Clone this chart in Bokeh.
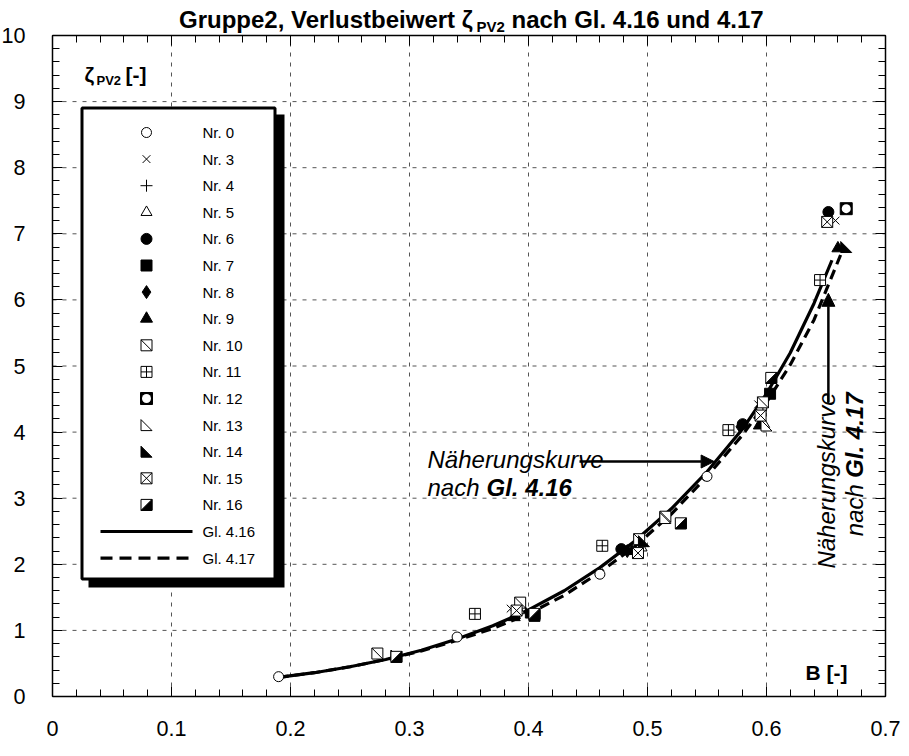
import numpy as np
from bokeh.plotting import figure
from bokeh.models import Range1d, LinearAxis, SingleIntervalTicker, Label, Arrow, NormalHead, BoxAnnotation
from bokeh.core.properties import value
from bokeh.embed import file_html
from bokeh.resources import INLINE

# ---------------- data ----------------
x_ticks = [0.0, 0.1, 0.2, 0.3, 0.4, 0.5, 0.6, 0.7]
y_ticks = [0, 1, 2, 3, 4, 5, 6, 7, 8, 9, 10]

# Gl. 4.16 (solid) and Gl. 4.17 (dashed) approximation curves
x_gl416 = [0.19, 0.22, 0.25, 0.28, 0.31, 0.34, 0.37, 0.40, 0.43, 0.46, 0.49, 0.52, 0.55, 0.58, 0.60, 0.62, 0.64, 0.655]
y_gl416 = [0.29, 0.36, 0.45, 0.56, 0.70, 0.87, 1.07, 1.31, 1.60, 1.95, 2.36, 2.84, 3.40, 4.05, 4.58, 5.20, 5.95, 6.60]
x_gl417 = [0.19, 0.22, 0.25, 0.28, 0.31, 0.34, 0.37, 0.40, 0.43, 0.46, 0.49, 0.52, 0.55, 0.58, 0.60, 0.62, 0.64, 0.665]
y_gl417 = [0.29, 0.36, 0.45, 0.56, 0.69, 0.85, 1.03, 1.25, 1.53, 1.88, 2.28, 2.76, 3.33, 3.96, 4.45, 5.02, 5.70, 6.80]

nr0_x = [0.19, 0.34, 0.46, 0.55, 0.596];        nr0_y = [0.30, 0.90, 1.85, 3.33, 4.35]
nr3_x = [0.385, 0.49, 0.593, 0.658];            nr3_y = [1.33, 2.20, 4.42, 7.20]
nr4_x = [0.39, 0.49, 0.597];                    nr4_y = [1.30, 2.22, 4.38]
nr5_x = [0.392, 0.495, 0.598];                  nr5_y = [1.30, 2.25, 4.12]
nr6_x = [0.478, 0.58, 0.652];                   nr6_y = [2.23, 4.12, 7.33]
nr7_x = [0.405, 0.603];                         nr7_y = [1.22, 4.58]
nr8_x = [0.483, 0.578];                         nr8_y = [2.20, 4.08]
nr9_x = [0.388, 0.487, 0.594, 0.66];            nr9_y = [1.20, 2.20, 4.10, 6.78]
nr10_x = [0.273, 0.393, 0.493, 0.515, 0.597];   nr10_y = [0.65, 1.42, 2.38, 2.72, 4.45]
nr11_x = [0.355, 0.462, 0.568, 0.645];          nr11_y = [1.25, 2.28, 4.03, 6.30]
nr12_x = [0.667];                               nr12_y = [7.38]
nr13_x = [0.515, 0.60];                         nr13_y = [2.70, 4.10]
nr14_x = [0.289, 0.402, 0.497, 0.667];          nr14_y = [0.62, 1.27, 2.35, 6.80]
nr15_x = [0.39, 0.492, 0.595, 0.651];           nr15_y = [1.30, 2.17, 4.25, 7.18]
nr16_x = [0.289, 0.405, 0.528, 0.604];          nr16_y = [0.60, 1.25, 2.62, 4.82]

series = [
    ("Nr. 0", "o", nr0_x, nr0_y), ("Nr. 3", "x", nr3_x, nr3_y), ("Nr. 4", "+", nr4_x, nr4_y),
    ("Nr. 5", "tri", nr5_x, nr5_y), ("Nr. 6", "circ_f", nr6_x, nr6_y), ("Nr. 7", "sq_f", nr7_x, nr7_y),
    ("Nr. 8", "dia_f", nr8_x, nr8_y), ("Nr. 9", "tri_f", nr9_x, nr9_y), ("Nr. 10", "sq_diag", nr10_x, nr10_y),
    ("Nr. 11", "sq_cross", nr11_x, nr11_y), ("Nr. 12", "sq_circ", nr12_x, nr12_y), ("Nr. 13", "rtri", nr13_x, nr13_y),
    ("Nr. 14", "rtri_f", nr14_x, nr14_y), ("Nr. 15", "sq_x", nr15_x, nr15_y), ("Nr. 16", "sq_half", nr16_x, nr16_y),
]

# ---------------- geometry ----------------
W, H = 901, 740
PL, PR, PT, PB = 60, 893, 43, 704          # page pixels of the data box
XMIN, XMAX, YMIN, YMAX = 0.0, 0.7, 0.0, 10.0
KX = (PR - PL) / (XMAX - XMIN)
KY = (PB - PT) / (YMAX - YMIN)
SX, SY = 1.0 / KX, 1.0 / KY
EPS = 1e-6

def X(px):  # page pixel -> data x
    return XMIN + (px - PL) * SX

def Y(py):  # page pixel -> data y
    return YMIN + (PB - py) * SY

FONT = "Liberation Sans"

p = figure(width=W, height=H,
           x_range=Range1d(X(8), X(8 + W)), y_range=Range1d(Y(8 + H), Y(8)),
           output_backend="svg", toolbar_location=None,
           x_axis_location=None, y_axis_location=None,
           min_border=0, min_border_left=0, min_border_right=0, min_border_top=0, min_border_bottom=0,
           background_fill_color="white", border_fill_color="white")
p.outline_line_color = None
p.xgrid.visible = False
p.ygrid.visible = False

def label(px, py, text, size, style="normal", align="left", baseline="alphabetic", angle=0.0, level="annotation"):
    p.add_layout(Label(x=X(px), y=Y(py), text=text, text_align=align, text_baseline=baseline, angle=angle,
                       text_font=FONT, text_font_style=style, text_font_size=size, text_color="black",
                       level=level))

# ---------------- grid lines (from the tick values) ----------------
gx = [v for v in x_ticks if XMIN < v < XMAX]
gy = [v for v in y_ticks if YMIN < v < YMAX]
p.segment(x0=gx, y0=[YMIN] * len(gx), x1=gx, y1=[YMAX] * len(gx), line_color="#555555", line_width=1, line_dash="4 6")
p.segment(x0=[XMIN] * len(gy), y0=gy, x1=[XMAX] * len(gy), y1=gy, line_color="#555555", line_width=1, line_dash="4 6")

# ---------------- axes on all four sides ----------------
def make_axis(fixed, bounds, interval, labels, standoff=0):
    ax = LinearAxis(fixed_location=fixed, bounds=(bounds[0] - EPS, bounds[1] + EPS),
                    ticker=SingleIntervalTicker(interval=interval, num_minor_ticks=5))
    ax.axis_line_color = "black"
    ax.axis_line_width = 1.5
    ax.major_tick_in = 10
    ax.major_tick_out = 0
    ax.minor_tick_in = 7
    ax.minor_tick_out = 0
    ax.major_tick_line_color = "black"
    ax.minor_tick_line_color = "black"
    if labels:
        ax.major_label_text_font = FONT
        ax.major_label_text_font_size = "21.6px"
        ax.major_label_text_color = "black"
        ax.major_label_standoff = standoff
    else:
        ax.major_label_text_color = None
    return ax

p.add_layout(make_axis(XMIN, (YMIN, YMAX), 1, True, 27), "left")
p.add_layout(make_axis(YMIN, (XMIN, XMAX), 0.1, True, 24), "below")
p.add_layout(make_axis(YMAX, (XMIN, XMAX), 0.1, False), "above")
p.add_layout(make_axis(XMAX, (YMIN, YMAX), 1, False), "right")

# ---------------- curves ----------------
p.line(x_gl416, y_gl416, line_color="black", line_width=3.2)
p.line(x_gl417, y_gl417, line_color="black", line_width=3.2, line_dash="10 6")

# ---------------- markers ----------------
def draw(kind, xs, ys, level="glyph"):
    xs = np.asarray(xs, float)
    ys = np.asarray(ys, float)
    h = 5.5
    dx, dy = h * SX, h * SY
    rs = []
    if kind == "o":
        rs.append(p.scatter(xs, ys, marker="circle", size=10, fill_color="white", line_color="black", line_width=1))
    elif kind == "x":
        rs.append(p.scatter(xs, ys, marker="x", size=11, line_color="black", line_width=1))
    elif kind == "+":
        rs.append(p.scatter(xs, ys, marker="cross", size=12, line_color="black", line_width=1))
    elif kind == "tri":
        rs.append(p.scatter(xs, ys, marker="triangle", size=11, fill_color="white", line_color="black", line_width=1))
    elif kind == "circ_f":
        rs.append(p.scatter(xs, ys, marker="circle", size=11, fill_color="black", line_color="black"))
    elif kind == "sq_f":
        rs.append(p.scatter(xs, ys, marker="square", size=11, fill_color="black", line_color="black"))
    elif kind == "dia_f":
        rs.append(p.scatter(xs, ys, marker="diamond", size=13, fill_color="black", line_color="black"))
    elif kind == "tri_f":
        rs.append(p.scatter(xs, ys, marker="triangle", size=12, fill_color="black", line_color="black"))
    elif kind == "sq_diag":
        rs.append(p.scatter(xs, ys, marker="square", size=11, fill_color="white", line_color="black", line_width=1))
        rs.append(p.segment(x0=xs - dx, y0=ys + dy, x1=xs + dx, y1=ys - dy, line_color="black", line_width=1))
    elif kind == "sq_cross":
        rs.append(p.scatter(xs, ys, marker="square_cross", size=11, fill_color="white", line_color="black", line_width=1))
    elif kind == "sq_circ":
        rs.append(p.scatter(xs, ys, marker="square", size=12, fill_color="black", line_color="black"))
        rs.append(p.scatter(xs, ys, marker="circle", size=9, fill_color="white", line_color=None))
    elif kind in ("rtri", "rtri_f"):
        pxs = [[x - dx, x - dx, x + dx] for x in xs]
        pys = [[y + dy, y - dy, y - dy] for y in ys]
        fc = "white" if kind == "rtri" else "black"
        rs.append(p.patches(pxs, pys, fill_color=fc, line_color="black", line_width=1))
    elif kind == "sq_x":
        rs.append(p.scatter(xs, ys, marker="square_x", size=11, fill_color="white", line_color="black", line_width=1))
    elif kind == "sq_half":
        rs.append(p.scatter(xs, ys, marker="square", size=11, fill_color="white", line_color="black", line_width=1))
        pxs = [[x + dx, x + dx, x - dx] for x in xs]
        pys = [[y + dy, y - dy, y - dy] for y in ys]
        rs.append(p.patches(pxs, pys, fill_color="black", line_color="black", line_width=1))
    for r in rs:
        r.level = level
    return rs

for name, kind, xs, ys in series:
    draw(kind, xs, ys)

# ---------------- legend (drawn by hand) ----------------
p.add_layout(BoxAnnotation(left=X(96), right=X(292), top=Y(122), bottom=Y(595),
                           fill_color="black", fill_alpha=1, line_color=None))
p.add_layout(BoxAnnotation(left=X(89.5), right=X(282.5), top=Y(115.5), bottom=Y(586.5),
                           fill_color="white", fill_alpha=1, line_color="black", line_width=3, line_alpha=1))

ROW0, DROW = 140.0, 26.6
mx, tx = 154, 210
for i, (name, kind, xs, ys) in enumerate(series):
    ry = ROW0 + i * DROW
    draw(kind, [X(mx)], [Y(ry)], level="overlay")
    label(tx, ry, name, "15px", baseline="middle", level="overlay")
for j, (name, dash) in enumerate([("Gl. 4.16", "solid"), ("Gl. 4.17", "12 7")]):
    ry = ROW0 + (len(series) + j) * DROW
    r = p.line([X(108), X(200)], [Y(ry), Y(ry)], line_color="black", line_width=3.2, line_dash=dash)
    r.level = "overlay"
    label(tx, ry, name, "15px", baseline="middle", level="overlay")

# ---------------- title ----------------
label(487, 27, "Gruppe2, Verlustbeiwert  \u03b6", "24px", "bold", align="right")
label(484, 34, "PV2", "15px", "bold")
label(519, 27, "nach Gl. 4.16 und 4.17", "24px", "bold")

# ---------------- axis titles inside the box ----------------
label(92, 82, "\u03b6", "21px", "bold")
label(104, 88, "PV2", "13px", "bold")
label(133, 82, "[-]", "21px", "bold")
label(855, 680, "B [-]", "21px", "bold", align="right")

# ---------------- annotations ----------------
label(435, 467, "N\u00e4herungskurve", "24px", "italic")
label(435, 495, "nach ", "24px", "italic")
label(494, 495, "Gl. 4.16", "24px", "bold italic")
p.add_layout(Arrow(end=NormalHead(size=13, fill_color="black", line_color="black"),
                   x_start=X(587), y_start=Y(469), x_end=0.556, y_end=Y(469),
                   line_color="black", line_width=2.5))

label(834, 400, "N\u00e4herungskurve", "24px", "italic", align="right", angle=np.pi / 2)
label(862, 485, "nach ", "24px", "italic", align="right", angle=np.pi / 2)
label(862, 400, "Gl. 4.17", "24px", "bold italic", align="right", angle=np.pi / 2)
p.add_layout(Arrow(end=NormalHead(size=13, fill_color="black", line_color="black"),
                   x_start=0.652, y_start=4.45, x_end=0.652, y_end=6.1,
                   line_color="black", line_width=2.5))

open("out.html", "w").write(file_html(p, INLINE))
